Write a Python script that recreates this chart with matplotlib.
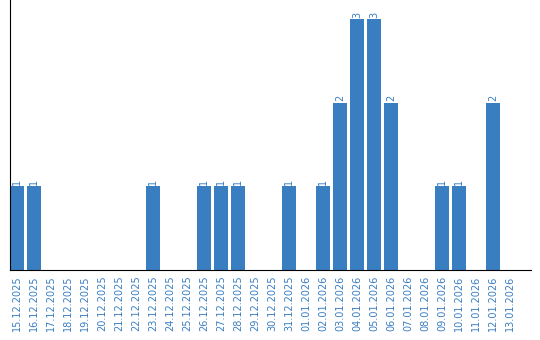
import matplotlib
matplotlib.use("Agg")
import matplotlib.pyplot as plt

dates = ["15.12.2025", "16.12.2025", "17.12.2025", "18.12.2025", "19.12.2025",
         "20.12.2025", "21.12.2025", "22.12.2025", "23.12.2025", "24.12.2025",
         "25.12.2025", "26.12.2025", "27.12.2025", "28.12.2025", "29.12.2025",
         "30.12.2025", "31.12.2025", "01.01.2026", "02.01.2026", "03.01.2026",
         "04.01.2026", "05.01.2026", "06.01.2026", "07.01.2026", "08.01.2026",
         "09.01.2026", "10.01.2026", "11.01.2026", "12.01.2026", "13.01.2026"]
counts = [1, 1, 0, 0, 0, 0, 0, 0, 1, 0,
          0, 1, 1, 1, 0, 0, 1, 0, 1, 2,
          3, 3, 2, 0, 0, 1, 1, 0, 2, 0]

blue = "#3a7ec2"
bar_w = 0.82

fig = plt.figure(figsize=(5.4, 3.4), dpi=100)
ax = fig.add_axes([10 / 540, 70 / 340, 521 / 540, 270 / 340])

x = list(range(len(dates)))
ax.bar(x, counts, width=bar_w, color=blue)

# value labels above non-empty bars
for xi, c in zip(x, counts):
    if c > 0:
        ax.text(xi, c + 0.02, str(c), rotation=90, ha="center", va="bottom",
                color=blue, fontsize=7)

ax.set_xlim(-bar_w / 2, 30.24)
ax.set_ylim(0, 3.23)
ax.set_xticks(x)
ax.set_xticklabels(dates, rotation=90, color=blue, fontsize=7)
ax.tick_params(axis="x", length=0, pad=4)
ax.set_yticks([])

for side in ["top", "right"]:
    ax.spines[side].set_visible(False)
ax.spines["left"].set_color("black")
ax.spines["bottom"].set_color("black")

fig.savefig("out.png", dpi=100)
